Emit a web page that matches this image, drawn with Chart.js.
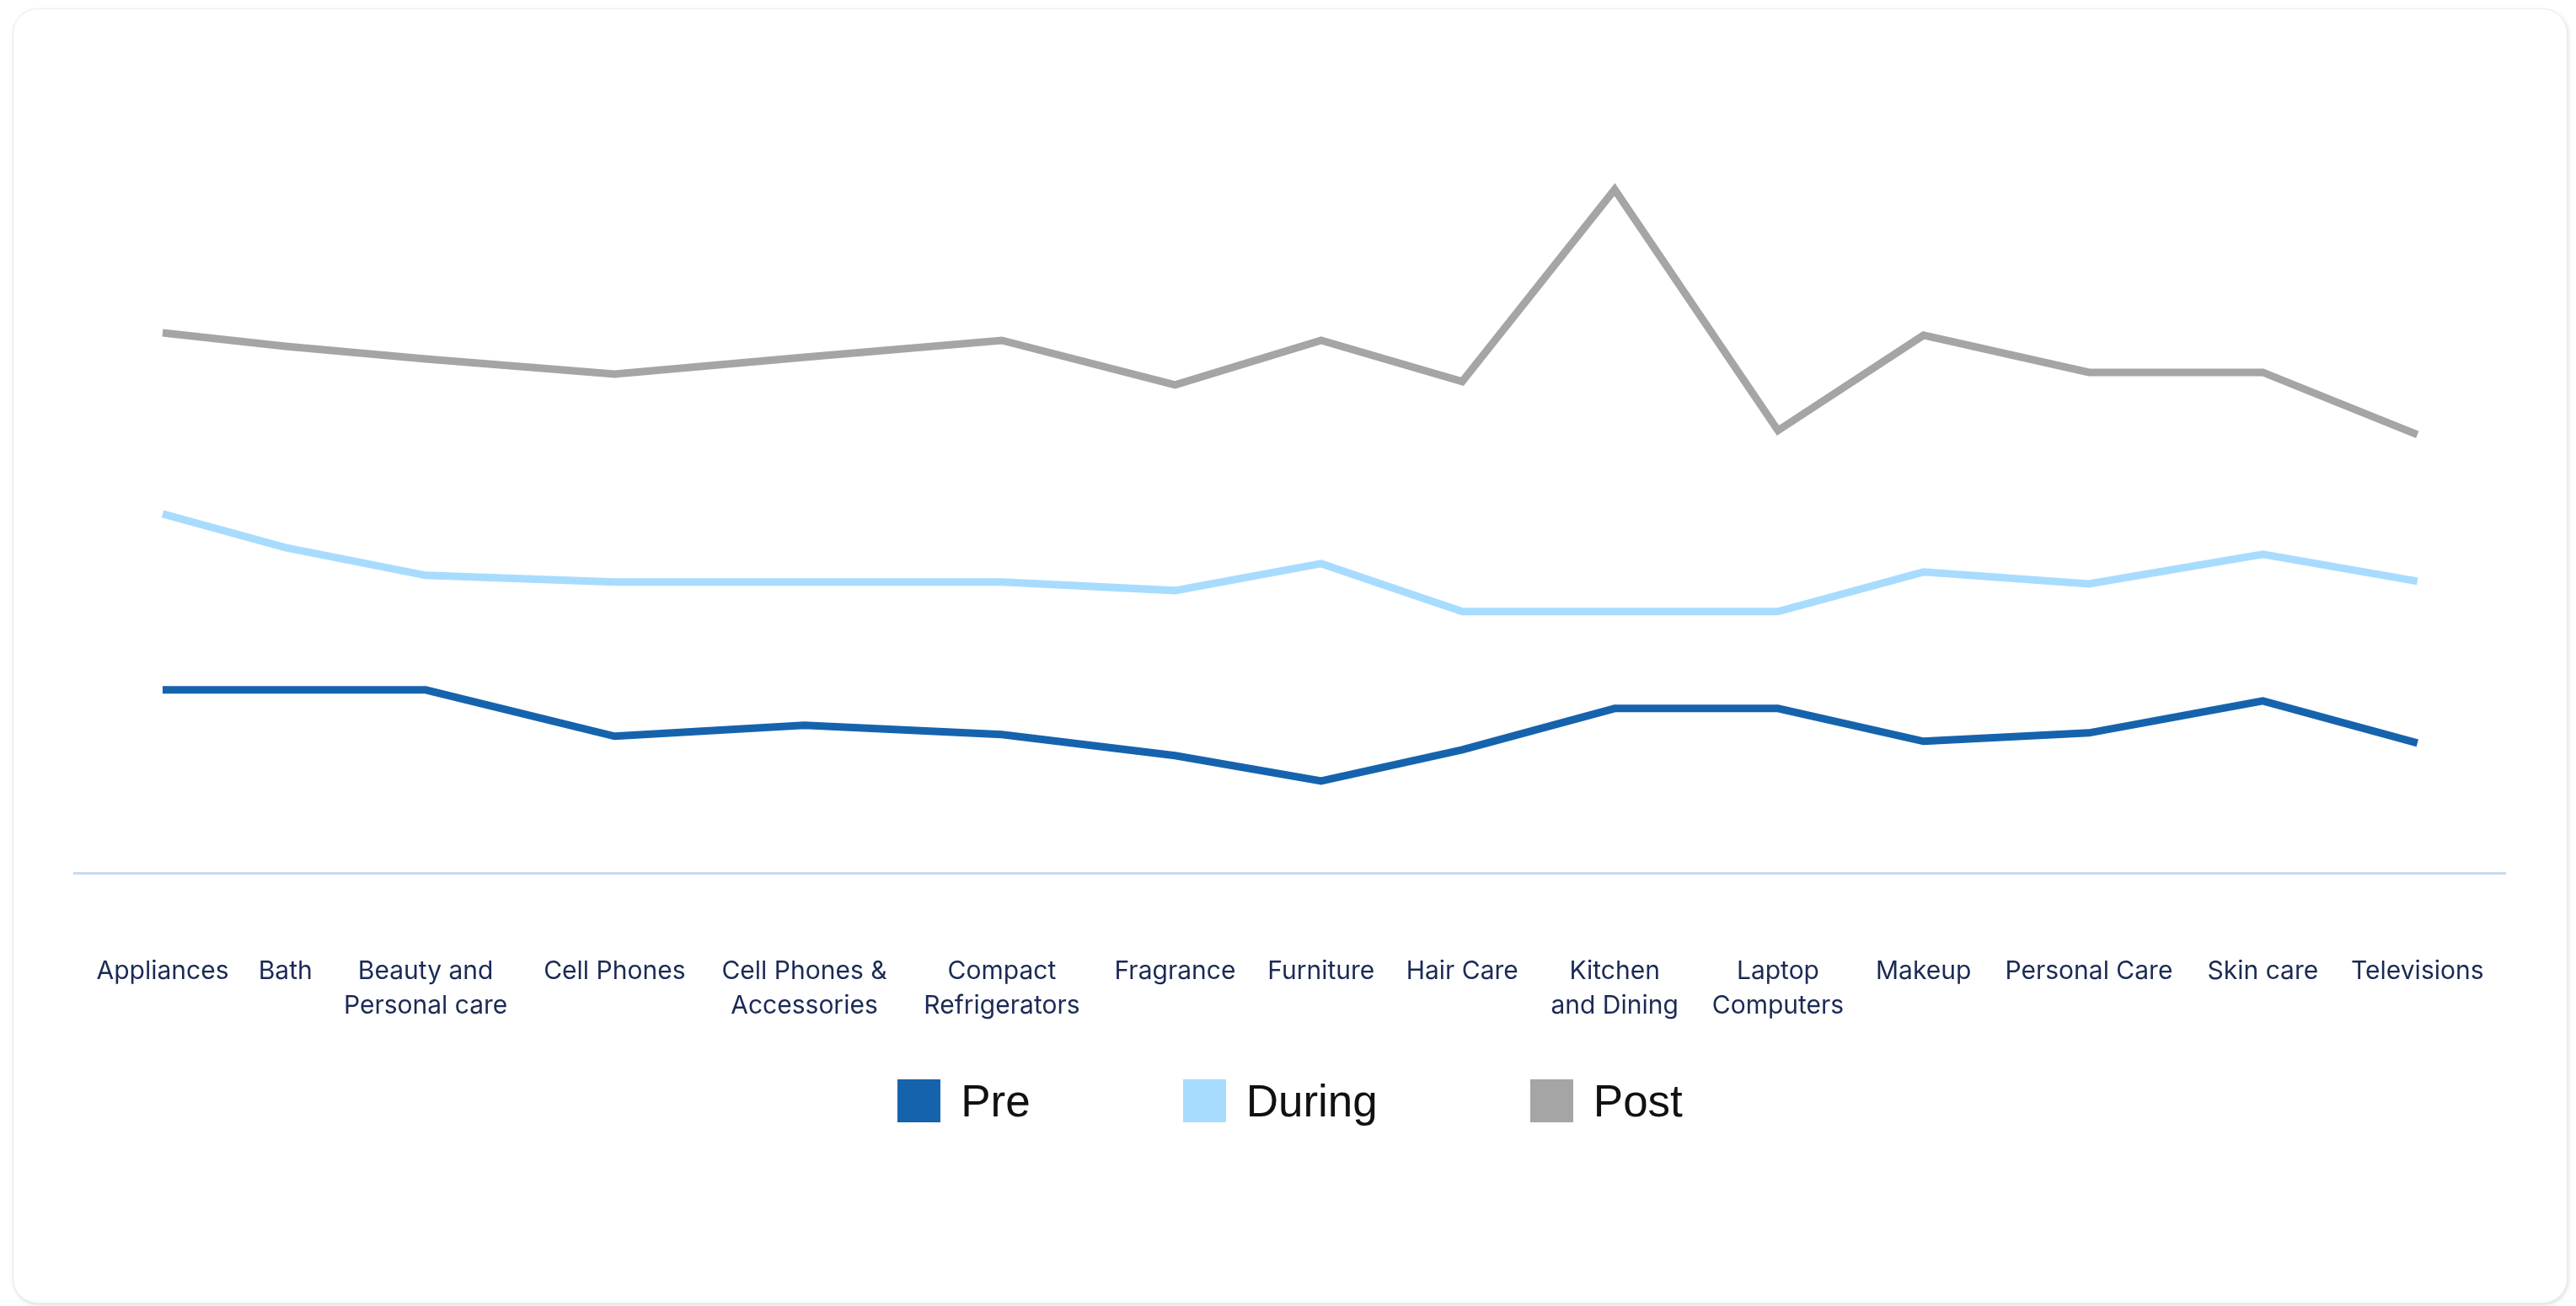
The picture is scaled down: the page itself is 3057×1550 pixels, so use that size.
<!DOCTYPE html>
<html>
<head>
<meta charset="utf-8">
<script src="https://cdn.jsdelivr.net/npm/chart.js@4.4.1/dist/chart.umd.min.js"></script>
<style>
    html, body { margin: 0; padding: 0; background: #ffffff; }
    .tarjeta {
        position: absolute; left: 15px; top: 10px; width: 3032px; height: 1537px;
        box-sizing: border-box; border: 1px solid #ececec; border-radius: 30px;
        box-shadow: 1px 2px 5px rgba(0,0,0,0.13); background: #ffffff;
    }
    .caja { position: absolute; left: 0; top: 0; right: 0; bottom: 0; }
    #leyenda {
        position: absolute; left: 0; right: 0; top: 1270px;
        display: flex; justify-content: center; gap: 181px;
        font-family: "Liberation Sans", Arial, sans-serif; font-size: 53px; color: #111111;
    }
    .item { display: flex; align-items: center; gap: 24px; height: 51px; }
    .cuadro { width: 51px; height: 51px; }
</style>
</head>
<body>
<div class="tarjeta">
    <div class="caja"><canvas id="lineas"></canvas></div>
    <div id="leyenda"></div>
</div>
<script>
const categorias = [["Appliances"], ["Bath"], ["Beauty and", "Personal care"], ["Cell Phones"],
    ["Cell Phones &", "Accessories"], ["Compact", "Refrigerators"], ["Fragrance"], ["Furniture"],
    ["Hair Care"], ["Kitchen", "and Dining"], ["Laptop", "Computers"], ["Makeup"],
    ["Personal Care"], ["Skin care"], ["Televisions"]];
const series = ["Pre", "During", "Post"];
const valores_pre = [21.8, 21.8, 21.8, 16.3, 17.6, 16.5, 14.0, 11.0, 14.7, 19.6, 19.6, 15.7, 16.7, 20.5, 15.5];
const valores_during = [42.7, 38.7, 35.4, 34.6, 34.6, 34.6, 33.6, 36.8, 31.1, 31.1, 31.1, 35.8, 34.4, 37.9, 34.7];
const valores_post = [64.2, 62.6, 61.1, 59.3, 61.3, 63.3, 58.0, 63.3, 58.4, 81.2, 52.6, 63.9, 59.5, 59.5, 52.1];

const colorPre = '#1663ad';
const colorDuring = '#a8dcfe';
const colorPost = '#a5a5a5';

const fuente = {family: 'Inter, "Noto Sans", sans-serif', size: 30, lineHeight: 1.37};

// cada categoria ocupa el ancho de su etiqueta, como en el original
function posiciones(){
    const c = document.createElement('canvas').getContext('2d');
    c.font = fuente.size + 'px ' + fuente.family;
    const hueco = 21;
    let x = 0;
    const pos = [];
    categorias.forEach(lineas => {
        const w = Math.max(...lineas.map(t => c.measureText(t).width));
        pos.push(x + w / 2);
        x += w + hueco;
    });
    return {pos: pos, total: x - hueco};
}

function leyenda(colores){
    const div = document.getElementById('leyenda');
    series.forEach((nombre, i) => {
        const item = document.createElement('div');
        item.className = 'item';
        item.innerHTML = '<span class="cuadro" style="background:' + colores[i] + '"></span><span>' + nombre + '</span>';
        div.appendChild(item);
    });
}

function grafico_lineas(){
    const ctx = document.getElementById("lineas");
    const {pos, total} = posiciones();
    const colores = [colorPre, colorDuring, colorPost];
    const valores = [valores_pre, valores_during, valores_post];

    const grafico = new Chart(ctx, {
        type: 'line',
        data: {
            datasets: series.map((nombre, s) => ({
                label: nombre,
                data: valores[s].map((v, i) => ({x: pos[i], y: v})),
                borderColor: colores[s],
                backgroundColor: colores[s],
                borderWidth: 9,
                pointRadius: 0,
                tension: 0,
                fill: false
            }))
        },
        options: {
            responsive: true,
            maintainAspectRatio: false,
            animation: false,
            layout: {padding: {top: 26, left: 70, right: 70, bottom: 235}},
            plugins: {legend: {display: false}, tooltip: {enabled: false}},
            scales: {
                x: {
                    type: 'linear',
                    min: -16,
                    max: total + 16,
                    afterBuildTicks: eje => { eje.ticks = pos.map(v => ({value: v})); },
                    grid: {display: false, drawTicks: false},
                    border: {display: true, color: '#c9d9ee', width: 3},
                    ticks: {
                        autoSkip: false, maxRotation: 0, minRotation: 0,
                        padding: 96, color: '#1b2a55', font: fuente,
                        callback: (v, i) => categorias[i]
                    }
                },
                y: {display: false, min: 0, max: 100}
            }
        }
    });
    leyenda(colores);
}

grafico_lineas();
</script>
</body>
</html>
